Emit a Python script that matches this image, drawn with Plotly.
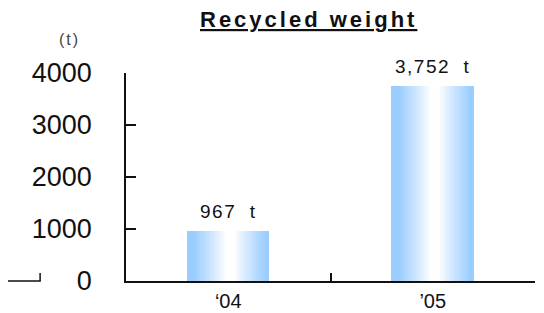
import plotly.graph_objects as go

# ---- data ----
categories = ["\u201804", "\u201905"]
values = [967, 3752]
value_labels = ["967", "3,752"]
unit = "t"
y_ticks = [0, 1000, 2000, 3000, 4000]
y_ticktext = ["0", "1000", "2000", "3000", "4000"]
title_text = "Recycled weight"
unit_label = "(t)"

# ---- style ----
FONT = "Liberation Sans, Arial, sans-serif"
BLUE = (153, 204, 255)
N_SLICES = 60
BAR_W = 0.4


def slice_color(t):
    peak = 0.53
    d = abs(t - peak) - 0.05
    d = max(0.0, d) / 0.40
    a = min(1.0, d) ** 0.9
    r = round(255 + (BLUE[0] - 255) * a)
    g = round(255 + (BLUE[1] - 255) * a)
    b = round(255 + (BLUE[2] - 255) * a)
    return f"rgb({r},{g},{b})"


xs, ys, offs, widths, cols = [], [], [], [], []
sw = BAR_W / N_SLICES
for cat, val in zip(categories, values):
    for i in range(N_SLICES):
        t = (i + 0.5) / N_SLICES
        xs.append(cat)
        ys.append(val)
        offs.append(-BAR_W / 2 + i * sw)
        widths.append(sw * 1.15 if i < N_SLICES - 1 else sw)
        cols.append(slice_color(t))

fig = go.Figure()
fig.add_trace(go.Bar(
    x=xs, y=ys, offset=offs, width=widths,
    marker=dict(color=cols, line=dict(width=0)),
    hoverinfo="skip", showlegend=False,
))

# value labels
for cat, val, lab in zip(categories, values, value_labels):
    fig.add_annotation(
        x=cat, y=val, yshift=19, showarrow=False, yanchor="middle",
        text=f'<span style="letter-spacing:1.5px">{lab}\u00a0\u00a0{unit}</span>',
        font=dict(family=FONT, size=19, color="#111"),
    )

# title
fig.add_annotation(
    xref="paper", yref="paper", x=0.446, y=1.255, showarrow=False,
    xanchor="center", yanchor="middle",
    text=f'<b><span style="letter-spacing:3px">{title_text}</span></b>',
    font=dict(family=FONT, size=22, color="#111", lineposition="under"),
)

# unit label
fig.add_annotation(
    xref="paper", yref="paper", x=-0.139, y=1.159, showarrow=False,
    xanchor="center", yanchor="middle",
    text=f'<span style="letter-spacing:2px">{unit_label}</span>',
    font=dict(family=FONT, size=16, color="#444"),
)

# stray axis fragment at left
fig.add_shape(
    type="path", xref="paper", yref="paper",
    path="M -0.30 0 L -0.210 0 L -0.210 0.0385",
    line=dict(color="#111", width=1.5),
)

fig.update_layout(
    width=544, height=313,
    margin=dict(l=118, r=17, t=65, b=40),
    paper_bgcolor="white", plot_bgcolor="white",
    bargap=0, showlegend=False,
    xaxis=dict(
        type="category", categoryorder="array", categoryarray=categories,
        range=[-0.5, 1.5], tickson="boundaries", automargin=False,
        ticks="inside", ticklen=8, tickwidth=1.5, tickcolor="#111",
        showline=True, linecolor="#111", linewidth=1.5, showgrid=False,
        tickfont=dict(family=FONT, size=20, color="#111"),
        ticklabelstandoff=1,
    ),
    yaxis=dict(
        range=[0, 4000], tickvals=y_ticks, ticktext=y_ticktext,
        automargin=False,
        ticks="inside", ticklen=10, tickwidth=1.5, tickcolor="#111",
        showline=True, linecolor="#111", linewidth=1.5, showgrid=False,
        zeroline=False,
        tickfont=dict(family=FONT, size=27, color="#111"),
        ticklabelstandoff=27,
    ),
)

fig.write_html("out.html")
